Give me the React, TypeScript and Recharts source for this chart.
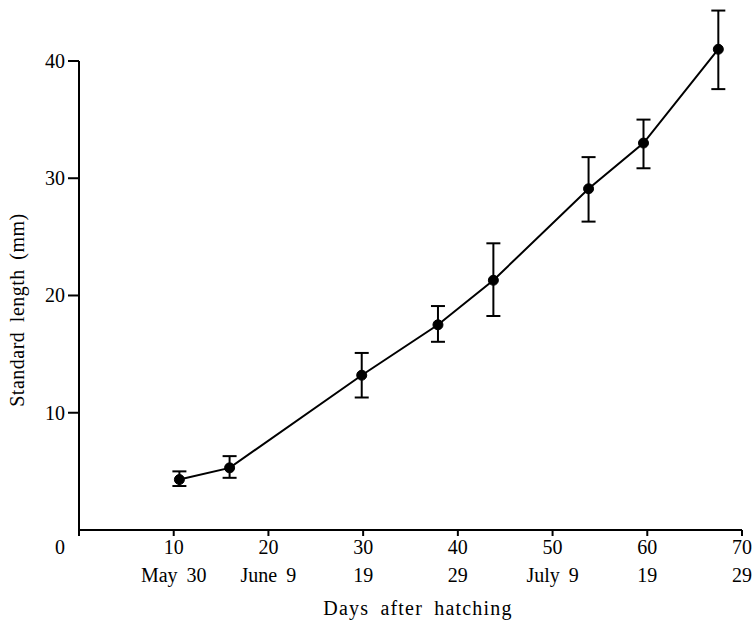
import { LineChart, Line, XAxis, YAxis, ErrorBar, ReferenceLine } from 'recharts';

// days after hatching, mean standard length (mm), and error-bar ends
const days = [10.6, 15.9, 29.85, 37.9, 43.75, 53.8, 59.6, 67.5];
const lengths = [4.3, 5.3, 13.2, 17.5, 21.3, 29.1, 33.0, 41.0];
const upperEnds = [5.0, 6.3, 15.1, 19.1, 24.45, 31.8, 35.0, 44.3];
const lowerEnds = [3.75, 4.45, 11.3, 16.05, 18.25, 26.3, 30.85, 37.6];

const xTicks = [0, 10, 20, 30, 40, 50, 60, 70];
const dateLabels = ['', 'May 30', 'June 9', '19', '29', 'July 9', '19', '29'];
const yTicks = [10, 20, 30, 40];

const FONT = '"Liberation Serif", "Times New Roman", serif';

const chartData = days.map((d, i) => ({
  day: d,
  len: lengths[i],
  err: [lengths[i] - lowerEnds[i], upperEnds[i] - lengths[i]],
}));

function XTick(props: any) {
  const { x, y, payload } = props;
  const idx = xTicks.indexOf(payload.value);
  const isZero = payload.value === 0;
  return (
    <g>
      <text
        x={isZero ? x - 19 : x}
        y={y + 18}
        textAnchor="middle"
        fontFamily={FONT}
        fontSize={20}
        fill="#000"
      >
        {payload.value}
      </text>
      {dateLabels[idx] ? (
        <text
          x={x}
          y={y + 46}
          textAnchor="middle"
          fontFamily={FONT}
          fontSize={20}
          fill="#000"
          wordSpacing={4}
        >
          {dateLabels[idx]}
        </text>
      ) : null}
    </g>
  );
}

function YTick(props: any) {
  const { x, y, payload } = props;
  return (
    <text x={x} y={y + 7} textAnchor="end" fontFamily={FONT} fontSize={20} fill="#000">
      {payload.value}
    </text>
  );
}

export default function App() {
  return (
    <div style={{ position: 'absolute', left: 0, top: 0, background: '#fff' }}>
      <LineChart
        width={756}
        height={626}
        data={chartData}
        margin={{ top: 0, right: 14, left: 0, bottom: 0 }}
      >
        <XAxis
          dataKey="day"
          type="number"
          domain={[0, 70]}
          ticks={xTicks}
          height={96}
          axisLine={{ stroke: '#000', strokeWidth: 2 }}
          tickLine={{ stroke: '#000', strokeWidth: 2 }}
          tickSize={6}
          tickMargin={0}
          tick={<XTick />}
          label={{
            content: () => (
              <text
                x={418}
                y={615}
                textAnchor="middle"
                fontFamily={FONT}
                fontSize={20}
                letterSpacing={1.2}
                wordSpacing={5}
                fill="#000"
              >
                Days after hatching
              </text>
            ),
          }}
        />
        <YAxis
          type="number"
          domain={[0, 45.2]}
          ticks={yTicks}
          width={79}
          axisLine={false}
          tickLine={{ stroke: '#000', strokeWidth: 2 }}
          tickSize={11}
          tickMargin={3}
          tick={<YTick />}
          label={{
            content: () => (
              <text
                x={24}
                y={310}
                transform="rotate(-90 24 310)"
                textAnchor="middle"
                fontFamily={FONT}
                fontSize={20}
                letterSpacing={0.5}
                wordSpacing={4}
                fill="#000"
              >
                Standard length (mm)
              </text>
            ),
          }}
        />
        <ReferenceLine
          segment={[
            { x: 0, y: 0 },
            { x: 0, y: 40 },
          ]}
          stroke="#000"
          strokeWidth={2}
        />
        <Line
          type="linear"
          dataKey="len"
          stroke="#000"
          strokeWidth={2}
          dot={{ r: 5, fill: '#000', stroke: '#000', strokeWidth: 1 }}
          isAnimationActive={false}
        >
          <ErrorBar dataKey="err" direction="y" width={7} stroke="#000" strokeWidth={2} />
        </Line>
      </LineChart>
    </div>
  );
}
